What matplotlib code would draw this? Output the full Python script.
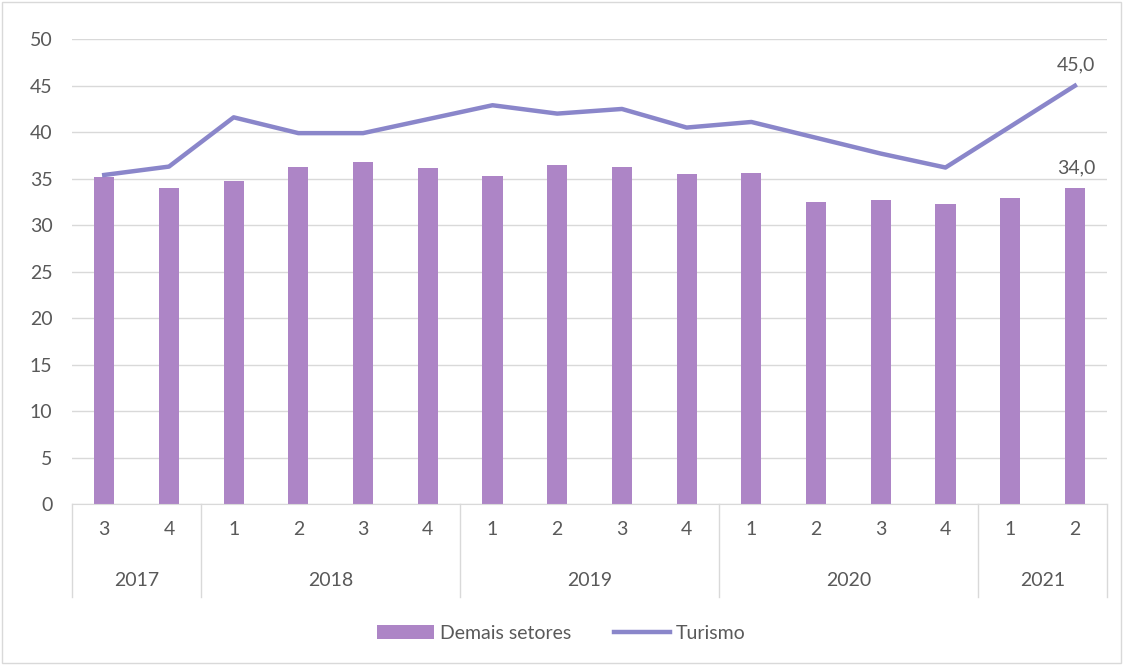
import numpy as np
import matplotlib.pyplot as plt
from matplotlib.patches import Rectangle

# data
quarters = ['3', '4', '1', '2', '3', '4', '1', '2', '3', '4', '1', '2', '3', '4', '1', '2']
years = ['2017', '2018', '2019', '2020', '2021']
year_counts = [2, 4, 4, 4, 2]
demais = [35.2, 34.0, 34.8, 36.3, 36.8, 36.2, 35.3, 36.5, 36.3, 35.5, 35.6, 32.5, 32.7, 32.3, 32.9, 34.0]
turismo = [35.4, 36.3, 41.6, 39.9, 39.9, 41.4, 42.9, 42.0, 42.5, 40.5, 41.1, 39.4, 37.7, 36.2, 40.6, 45.0]

bar_color = '#AD85C6'
line_color = '#8A86CA'
text_color = '#595959'
grid_color = '#D9D9D9'
fs = 14

plt.rcParams['font.family'] = ['Lato', 'DejaVu Sans']

fig = plt.figure(figsize=(11.23, 6.65), dpi=100)
ax = fig.add_axes([0.064, 0.242, 0.922, 0.699])

x = np.arange(len(quarters))
bars = ax.bar(x, demais, width=0.31, color=bar_color, label='Demais setores', zorder=2)
line, = ax.plot(x, turismo, color=line_color, lw=3.2, label='Turismo', zorder=3)

ax.set_xlim(-0.5, len(quarters) - 0.5)
ax.set_ylim(0, 50)
ax.set_yticks(range(0, 51, 5))
ax.grid(axis='y', color=grid_color, lw=1, zorder=0)
ax.set_axisbelow(True)

for s in ['top', 'right', 'left']:
    ax.spines[s].set_visible(False)
ax.spines['bottom'].set_color(grid_color)

ax.tick_params(axis='y', length=0, pad=14, labelsize=fs, labelcolor=text_color)
ax.set_xticks(x)
ax.set_xticklabels(quarters)
ax.tick_params(axis='x', length=0, pad=12, labelsize=fs, labelcolor=text_color)

# year groups and separators
trans = ax.get_xaxis_transform()
start = 0
bounds = [-0.5]
for yr, n in zip(years, year_counts):
    mid = start + (n - 1) / 2
    ax.text(mid, -0.165, yr, transform=trans, ha='center', va='center',
            fontsize=fs, color=text_color)
    start += n
    bounds.append(start - 0.5)
for b in bounds:
    ax.plot([b, b], [0, -0.2], transform=trans, color=grid_color, lw=1, clip_on=False)

# data labels on the last point
ax.annotate('45,0', (x[-1], turismo[-1]), xytext=(1, 9), textcoords='offset points',
            ha='center', va='bottom', fontsize=fs, color=text_color)
ax.annotate('34,0', (x[-1], demais[-1]), xytext=(1, 8), textcoords='offset points',
            ha='center', va='bottom', fontsize=fs, color=text_color)

leg = fig.legend([bars, line], ['Demais setores', 'Turismo'], loc='center',
                 bbox_to_anchor=(0.5, 0.048), ncol=2, frameon=False,
                 fontsize=fs, handlelength=2.9, handletextpad=0.3, columnspacing=2.2)
for t in leg.get_texts():
    t.set_color(text_color)

fig.patches.append(Rectangle((0.002, 0.003), 0.996, 0.994, transform=fig.transFigure,
                             fill=False, edgecolor=grid_color, lw=1))

fig.savefig('out.png', dpi=100)
